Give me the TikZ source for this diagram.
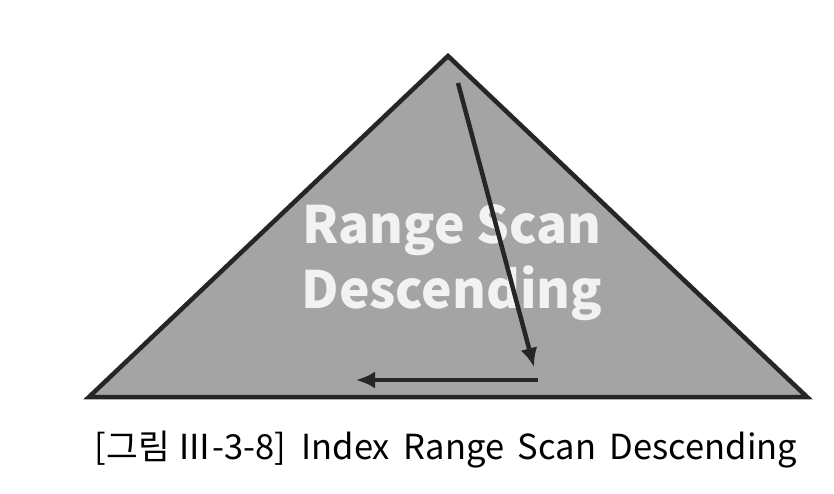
\documentclass[tikz,border=0pt]{standalone}
\usepackage{fontspec}
\newfontfamily\kr{Noto Sans CJK KR}
\usetikzlibrary{arrows.meta}
\definecolor{trifill}{HTML}{A4A4A4}
\definecolor{lbl}{HTML}{F2F2F2}
\begin{document}
\begin{tikzpicture}[x=1pt,y=-1pt,
  tri/.style={draw=black!85,line width=4.5pt,line join=miter,fill=trifill},
  scanarrow/.style={draw=black!85,line width=4.5pt,-{Latex[length=19pt,width=17pt]}},
  bigtext/.style={text=lbl,font=\kr\bfseries\fontsize{51.5}{65}\selectfont,align=center,inner sep=0pt},
  captxt/.style={font=\kr\fontsize{34.5}{40}\selectfont,inner sep=0pt,anchor=base}]
\useasboundingbox (0,0) rectangle (834,494);
\coordinate (apex) at (448,56);
\coordinate (bl) at (89,397);
\coordinate (br) at (807,397);
\draw[tri] (apex) -- (br) -- (bl) -- cycle;
\node[bigtext,anchor=base] (l1) at (452,243) {Range Scan};
\node[bigtext,anchor=base] (l2) at (452,308) {Descending};
\coordinate (a1s) at (458,83);
\coordinate (a1e) at (534,367);
\coordinate (a2s) at (538,380);
\coordinate (a2e) at (356,380);
\draw[scanarrow] (a1s) -- (a1e);
\draw[scanarrow] (a2s) -- (a2e);
\node[captxt] (cap) at (446,459) {[그림 Ⅲ-3-8]\hspace{0.45em}Index\hspace{0.4em}Range\hspace{0.4em}Scan\hspace{0.4em}Descending};
\end{tikzpicture}
\end{document}
